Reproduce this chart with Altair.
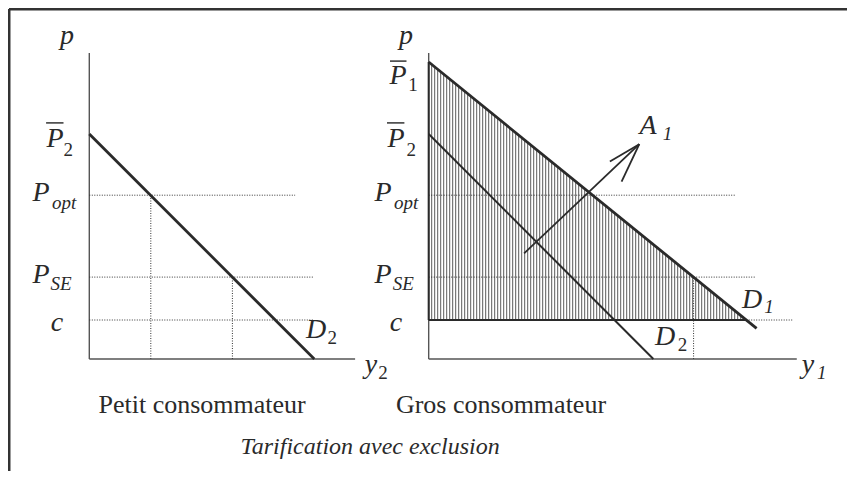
import altair as alt
import pandas as pd

# ---- price levels (vertical axis, both panels share the same scale)
c = 13.0
P_SE = 27.3
P_opt = 54.6
P2_bar = 75.0
P1_bar = 99.0
p_axis_top = 102.0

# ---- quantities
q_axis_end_left = 88.6
q_axis_end_right = 122.7
D2_left_x = [0.0, 75.0]
D2_left_y = [P2_bar, 0.0]
D1_x = [0.0, 109.3]
D1_y = [P1_bar, 10.2]
D2_right_x = [0.0, 74.9]
D2_right_y = [P2_bar, 0.0]
q_opt_left = 20.5
q_se_left = 47.7
q_se_right = 88.3
q_c_D1 = 105.7          # where D1 meets c
dotted_end_left = [68.6, 74.9, 74.9]      # P_opt, P_SE, c
dotted_end_right = [102.4, 109.0, 121.5]  # P_opt, P_SE, c
arrow_x = [31.8, 70.2]
arrow_y = [35.2, 71.6]
barb_x = [60.4, 64.3]
barb_y = [65.8, 59.1]

# layout constants
R = 113.13                     # right panel origin offset
XDOM = [-27.1, 252.567]
YDOM = [-37.333, 117.0]
FRAME_X = -26.77
FRAME_Y = 116.67

segs = []
def seg(panel, x, y, x2, y2, style):
    off = R if panel == 1 else 0.0
    segs.append(dict(gx=x + off, y=y, gx2=x2 + off, y2=y2, style=style))

# axes
for pnl, qend in [(0, q_axis_end_left), (1, q_axis_end_right)]:
    seg(pnl, 0, 0, 0, p_axis_top, "axis")
    seg(pnl, 0, 0, qend, 0, "axis")
# dotted guides
for lvl, e in zip([P_opt, P_SE, c], dotted_end_left):
    seg(0, 0, lvl, e, lvl, "dot")
seg(0, q_opt_left, 0, q_opt_left, P_opt, "dot")
seg(0, q_se_left, 0, q_se_left, P_SE, "dot")
for lvl, e in zip([P_opt, P_SE, c], dotted_end_right):
    seg(1, 0, lvl, e, lvl, "dot")
seg(1, q_se_right, 0, q_se_right, P_SE, "dot")
# demand curves
seg(0, D2_left_x[0], D2_left_y[0], D2_left_x[1], D2_left_y[1], "thick")
seg(1, D1_x[0], D1_y[0], D1_x[1], D1_y[1], "thick")
seg(1, D2_right_x[0], D2_right_y[0], D2_right_x[1], D2_right_y[1], "thin")
# shaded region edges
seg(1, 0, c, q_c_D1, c, "thin")
seg(1, 0, c, 0, P1_bar, "thin")
# arrow
seg(1, arrow_x[0], arrow_y[0], arrow_x[1], arrow_y[1], "arrow")
for bx, by in zip(barb_x, barb_y):
    seg(1, arrow_x[1], arrow_y[1], bx, by, "arrow")
# overbars
seg(0, -14.4, 78.7, -8.6, 78.7, "bar")
seg(1, -12.9, 99.3, -7.4, 99.3, "bar")
seg(1, -13.9, 78.7, -8.1, 78.7, "bar")
segs_df = pd.DataFrame(segs)

frame_df = pd.DataFrame([
    dict(gx=FRAME_X, y=FRAME_Y, gx2=XDOM[1], y2=FRAME_Y),
    dict(gx=FRAME_X, y=FRAME_Y, gx2=FRAME_X, y2=YDOM[0]),
])

# ---- labels
lab_text = ["p", "P", "P", "P", "c", "D", "y",
            "p", "P", "P", "P", "P", "c", "D", "D", "y", "A"]
lab_panel = [0, 0, 0, 0, 0, 0, 0,
             1, 1, 1, 1, 1, 1, 1, 1, 1, 1]
lab_x = [-7.4, -11.4, -16.1, -16.1, -10.8, 75.6, 93.9,
         -7.6, -10.2, -10.9, -15.2, -15.2, -10.9, 107.8, 78.8, 126.4, 73.1]
lab_y = [107.7, 73.3, 55.3, 28.0, 12.0, 9.7, -2.0,
         107.7, 94.3, 73.3, 55.3, 28.0, 12.0, 19.7, 7.3, -2.0, 77.7]

sub_text = ["2", "opt", "SE", "2", "2",
            "1", "2", "opt", "SE", "1", "2", "1", "1"]
sub_italic = [False, True, True, False, False,
              False, False, True, True, True, False, True, True]
sub_panel = [0, 0, 0, 0, 0,
             1, 1, 1, 1, 1, 1, 1, 1]
sub_x = [-7.0, -8.4, -9.4, 81.0, 97.9,
         -5.2, -5.8, -7.5, -8.5, 113.4, 84.6, 131.0, 79.6]
sub_y = [69.6, 51.9, 24.9, 6.9, -4.7,
         91.3, 69.6, 51.9, 24.9, 17.3, 4.6, -4.7, 74.9]

cap_text = ["Petit consommateur", "Gros consommateur"]
cap_panel = [0, 1]
cap_x = [37.6, 24.1]
cap_y = [-15.3, -15.3]
title_text = ["Tarification avec exclusion"]
title_x = [93.6]
title_y = [-29.3]

lab_df = pd.DataFrame(dict(t=lab_text, gx=[x + (R if p else 0) for x, p in zip(lab_x, lab_panel)], y=lab_y))
sub_df = pd.DataFrame(dict(t=sub_text, it=sub_italic,
                           gx=[x + (R if p else 0) for x, p in zip(sub_x, sub_panel)], y=sub_y))
cap_df = pd.DataFrame(dict(t=cap_text, gx=[x + (R if p else 0) for x, p in zip(cap_x, cap_panel)], y=cap_y))
title_df = pd.DataFrame(dict(t=title_text, gx=title_x, y=title_y))

xs = alt.Scale(domain=XDOM, nice=False, zero=False)
ys = alt.Scale(domain=YDOM, nice=False, zero=False)
X = lambda f: alt.X(f, type="quantitative", scale=xs, axis=None)
Y = lambda f: alt.Y(f, type="quantitative", scale=ys, axis=None)

def rules(style, **kw):
    return alt.Chart(segs_df).transform_filter(alt.datum.style == style).mark_rule(**kw).encode(
        x=X("gx"), y=Y("y"), x2="gx2", y2="y2")

slope = (D1_y[1] - D1_y[0]) / (D1_x[1] - D1_x[0])
hatch = alt.Chart(alt.sequence(1, q_c_D1, 1, as_="q")).transform_calculate(
    gx=f"datum.q + {R}", y=f"{c}", y2=f"{D1_y[0]} + datum.q * {slope}"
).mark_rule(color="#5a5a5a", strokeWidth=1).encode(x=X("gx"), y=Y("y"), y2="y2")

SERIF = "Times New Roman, Liberation Serif, Times, serif"
INK = "#2a2a2a"
layers = [
    hatch,
    rules("axis", color="#555555", strokeWidth=1.4),
    rules("dot", color="#333333", strokeWidth=1, strokeDash=[1, 1.5]),
    rules("thin", color=INK, strokeWidth=2),
    rules("thick", color=INK, strokeWidth=2.8),
    rules("arrow", color=INK, strokeWidth=1.8),
    rules("bar", color="#333333", strokeWidth=1.5),
    alt.Chart(frame_df).mark_rule(color="#333333", strokeWidth=3).encode(
        x=X("gx"), y=Y("y"), x2="gx2", y2="y2"),
    alt.Chart(lab_df).mark_text(font=SERIF, fontStyle="italic", fontSize=28, color=INK,
                                align="center", baseline="middle").encode(x=X("gx"), y=Y("y"), text="t:N"),
    alt.Chart(sub_df).transform_filter(alt.datum.it).mark_text(
        font=SERIF, fontStyle="italic", fontSize=19, color=INK,
        align="center", baseline="middle").encode(x=X("gx"), y=Y("y"), text="t:N"),
    alt.Chart(sub_df).transform_filter(~alt.datum.it).mark_text(
        font=SERIF, fontSize=19, color=INK,
        align="center", baseline="middle").encode(x=X("gx"), y=Y("y"), text="t:N"),
    alt.Chart(cap_df).mark_text(font=SERIF, fontSize=26, color=INK,
                                align="center", baseline="middle").encode(x=X("gx"), y=Y("y"), text="t:N"),
    alt.Chart(title_df).mark_text(font=SERIF, fontStyle="italic", fontSize=24, color=INK,
                                  align="center", baseline="middle").encode(x=X("gx"), y=Y("y"), text="t:N"),
]

chart = alt.layer(*layers).properties(
    width=839, height=463, autosize=alt.AutoSizeParams(type="none"), padding=0,
    background="white"
).configure_view(stroke=None)

chart.save("out.html", embed_options={"renderer": "svg", "actions": False})
